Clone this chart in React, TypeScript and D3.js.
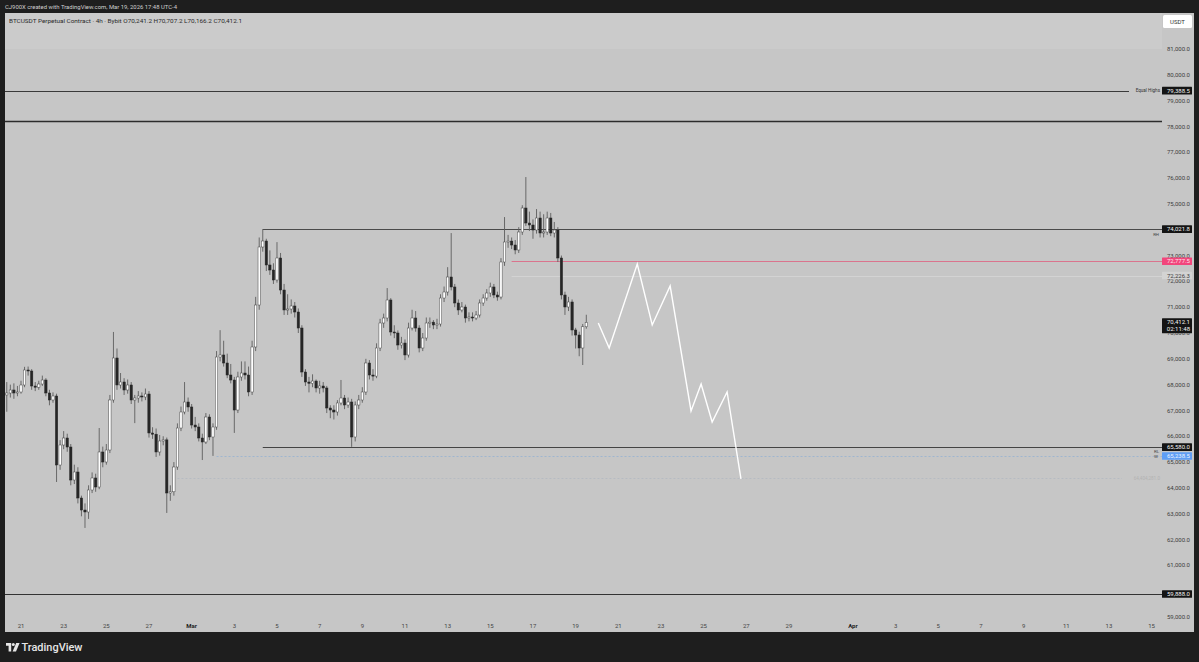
import React from 'react';
import * as d3 from 'd3';

// ---------------- data ----------------
const candleStartUtc = '2026-02-20T08:00:00Z';
const candleIntervalHours = 4;
const firstOpen = 67600;

const closes = [
  67676, 67792, 67676, 67715, 67986, 68567, 68528, 67947, 67900, 68024,
  68179, 67676, 67405, 67560, 64887, 65662, 65933, 65584, 64306, 64616,
  63609, 63144, 63067, 63919, 64384, 64035, 65391, 65003, 65468, 67405,
  69032, 67986, 68102, 67792, 67986, 67405, 67482, 67560, 67521, 67637,
  66127, 66080, 65391, 65817, 65860, 63803, 63850, 64810, 66320, 66940,
  67327, 67134, 66436, 66359, 65933, 65778, 66746, 65972, 66359, 69070,
  69148, 68838, 68373, 68179, 67017, 68296, 68450, 68373, 67715, 69458,
  71084, 73331, 73563, 72634, 72440, 72053, 72905, 71665, 70891, 70929,
  71046, 70813, 70193, 68489, 68102, 68050, 68140, 67870, 67947, 67870,
  67095, 67017, 66940, 67289, 67482, 67211, 67327, 65972, 67211, 67405,
  67715, 68838, 68373, 68330, 69419, 70387, 70581, 71278, 70039, 70000,
  69535, 69612, 69148, 70193, 70581, 70193, 69419, 69806, 70387, 70420,
  70310, 70348, 71355, 71588, 72169, 71782, 71162, 70891, 71007, 70581,
  70620, 70580, 70697, 71162, 71355, 71549, 71782, 71472, 71394, 72750,
  73524, 73560, 73408, 73215, 73912, 74841, 74260, 74183, 73989, 74454,
  73873, 73912, 74454, 73873, 73989, 72905, 71472, 71007, 71201, 70116,
  69922, 69419, 70241, 70412.1,
];

const highs = [
  68100, 68000, 68050, 67950, 68150, 68690, 68700, 68600, 68100, 68150,
  68350, 68250, 67800, 67700, 67650, 65850, 66200, 66100, 65700, 64900,
  64800, 63700, 63400, 64100, 64600, 64550, 66320, 65600, 65700, 67600,
  70040, 69400, 68450, 68250, 68200, 68100, 67600, 67750, 67700, 67850,
  67750, 66350, 66300, 66050, 66000, 65950, 64100, 65000, 66500, 67150,
  68100, 67500, 67250, 66750, 66500, 66100, 66900, 66850, 66500, 69300,
  70110, 69700, 69200, 68800, 68300, 68500, 68900, 68900, 68700, 69700,
  71400, 73700, 74022, 73650, 73200, 72700, 73520, 73100, 71900, 71500,
  71300, 71200, 70950, 70300, 68600, 68300, 68400, 68200, 68150, 68100,
  67950, 67200, 67200, 67400, 68180, 67600, 67500, 67450, 67350, 67600,
  67900, 69000, 68950, 68600, 69600, 70550, 70750, 71740, 71350, 70300,
  70100, 69850, 69750, 70400, 70900, 70850, 70300, 70000, 70600, 70600,
  70500, 70550, 71500, 71800, 72550, 73870, 71900, 71300, 71200, 71100,
  70800, 70800, 70850, 71300, 71500, 71700, 71950, 71900, 71600, 72900,
  74490, 73800, 73700, 73600, 74100, 74950, 76040, 74700, 74400, 74800,
  74700, 74600, 74700, 74650, 74300, 74100, 73000, 71600, 71400, 71300,
  70200, 70050, 70350, 70707.2,
];

const lows = [
  66950, 67500, 67450, 67550, 67650, 67900, 68350, 67800, 67750, 67800,
  67950, 67550, 67200, 67300, 64230, 64700, 65500, 65400, 64100, 64150,
  63400, 62900, 62450, 62800, 63800, 63850, 63950, 64800, 64900, 65350,
  67300, 67800, 67850, 67600, 67650, 67250, 66510, 67300, 67350, 67400,
  65950, 65900, 65200, 65250, 65650, 63030, 63500, 63700, 64700, 66200,
  66850, 66950, 66300, 66200, 65800, 65080, 65700, 65850, 65240, 66250,
  68900, 68700, 68250, 68050, 66130, 66900, 68150, 68200, 67550, 67600,
  69300, 70900, 73150, 72400, 72250, 71900, 71950, 71500, 70700, 70700,
  70750, 70600, 70000, 68300, 67950, 67700, 67900, 67700, 67650, 67700,
  66900, 66700, 66650, 66800, 67200, 67050, 67100, 65590, 65800, 67050,
  67300, 67600, 68200, 68150, 68250, 69300, 70200, 70450, 69900, 69800,
  69350, 69400, 68950, 69050, 70100, 70050, 69250, 69300, 69700, 70200,
  70150, 70150, 70250, 71200, 71450, 71650, 71000, 70700, 70800, 70400,
  70450, 70450, 70500, 70600, 71050, 71250, 71400, 71350, 71250, 71300,
  72600, 73300, 73250, 73050, 73100, 73800, 74150, 73950, 73650, 73850,
  73700, 73700, 73800, 73750, 73700, 72750, 71300, 70700, 70850, 69900,
  69400, 69100, 68760, 70166.2,
];

const priceTicks = [81000, 80000, 79000, 78000, 77000, 76000, 75000, 74000, 73000, 72000, 71000,
  70000, 69000, 68000, 67000, 66000, 65000, 64000, 63000, 62000, 61000, 60000, 59000];
const hiddenPriceTicks = [74000, 60000];

const dayTickDates = ['2026-02-21', '2026-02-23', '2026-02-25', '2026-02-27', '2026-03-01', '2026-03-03',
  '2026-03-05', '2026-03-07', '2026-03-09', '2026-03-11', '2026-03-13', '2026-03-15', '2026-03-17',
  '2026-03-19', '2026-03-21', '2026-03-23', '2026-03-25', '2026-03-27', '2026-03-29', '2026-04-01',
  '2026-04-03', '2026-04-05', '2026-04-07', '2026-04-09', '2026-04-11', '2026-04-13', '2026-04-15'];
const dayTickLabels = ['21', '23', '25', '27', 'Mar', '3', '5', '7', '9', '11', '13', '15', '17', '19',
  '21', '23', '25', '27', '29', 'Apr', '3', '5', '7', '9', '11', '13', '15'];

const projectionTimes = ['2026-03-20T01:30:00Z', '2026-03-20T13:45:00Z', '2026-03-21T21:20:00Z',
  '2026-03-22T14:10:00Z', '2026-03-23T10:20:00Z', '2026-03-24T09:50:00Z', '2026-03-24T21:10:00Z',
  '2026-03-25T09:35:00Z', '2026-03-26T02:25:00Z', '2026-03-26T18:00:00Z'];
const projectionPrices = [70388, 69420, 72673, 70311, 71821, 66980, 68026, 66554, 67716, 64346];

const levelPrices = [79388.5, 78211, 74021.8, 72777.5, 72226.3, 65580.0, 65238.5, 64384, 59888.0];
const levelStarts = [null, null, '2026-03-04T08:00:00Z', '2026-03-16T00:00:00Z', '2026-03-16T00:00:00Z',
  '2026-03-04T08:00:00Z', '2026-03-02T04:00:00Z', '2026-02-28T08:00:00Z', null];
const levelTags = ['Equal Highs', '', 'RH', '', '', 'RL', 'W', '64,404,281.0', ''];

const axisLabelPrices = [79388.5, 74021.8, 72777.5, 72226.3, 70412.1, 65580.0, 65238.5, 59888.0];
const axisLabelKinds = ['black', 'black', 'pink', 'light', 'black', 'black', 'blue', 'black'];
const countdownText = '02:11:48';

const headerText = 'CJ900X created with TradingView.com, Mar 19, 2026 17:48 UTC-4';
const symbolText = 'BTCUSDT Perpetual Contract · 4h · Bybit';
const ohlcLetters = ['O', 'H', 'L', 'C'];
const ohlcValues = [70241.2, 70707.2, 70166.2, 70412.1];
const currencyText = 'USDT';
const brandText = 'TradingView';

// ---------------- styles ----------------
const FONT = 'Roboto, "Liberation Sans", sans-serif';
const DARK = '#1e1e1e';
const BG = '#c6c6c6';
const BAND = '#cbcbcb';

const levelStyle = [
  { stroke: '#3a3a3a', w: 1, dash: '' },
  { stroke: '#2c2c2c', w: 1.4, dash: '' },
  { stroke: '#4a4a4a', w: 1, dash: '' },
  { stroke: '#e0607f', w: 0.8, dash: '' },
  { stroke: '#d3d3d3', w: 1, dash: '' },
  { stroke: '#444444', w: 1.2, dash: '' },
  { stroke: '#9fb6d0', w: 1, dash: '2,2' },
  { stroke: '#b6bbc2', w: 1, dash: '2,2' },
  { stroke: '#333333', w: 1.2, dash: '' },
];
const labelStyle: Record<string, { fill: string; text: string }> = {
  black: { fill: '#141414', text: '#f2f2f2' },
  pink: { fill: '#f2467c', text: '#ffe0ea' },
  light: { fill: '#d3d3d3', text: '#3c3c3c' },
  blue: { fill: '#5f9ef5', text: '#eaf2ff' },
};

export default function App() {
  const paneL = 5, paneR = 1194, paneT = 13, paneB = 632, plotR = 1162;
  const y = d3.scaleLinear().domain([59000, 81000]).range([617, 49]);
  const x = d3.scaleUtc()
    .domain([new Date('2026-02-21T00:00:00Z'), new Date('2026-04-15T00:00:00Z')])
    .range([21, 1151.6]);
  const fmt = d3.format(',.1f');

  const t0 = new Date(candleStartUtc).getTime();
  const stepMs = candleIntervalHours * 3600 * 1000;
  const candles = closes.map((c, i) => ({
    t: new Date(t0 + i * stepMs),
    o: i === 0 ? firstOpen : closes[i - 1],
    h: highs[i],
    l: lows[i],
    c,
  }));
  const step = x(new Date(t0 + stepMs)) - x(new Date(t0));
  const bw = step * 0.66;

  const proj = projectionTimes.map((t, i) => [new Date(t), projectionPrices[i]] as [Date, number]);
  const projLine = d3.line<[Date, number]>().x(d => x(d[0])).y(d => y(d[1]));

  const lastY = y(ohlcValues[3]);

  return (
    <svg width={1199} height={662} style={{ position: 'absolute', left: 0, top: 0, display: 'block' }}
      fontFamily={FONT}>
      <rect x={0} y={0} width={1199} height={662} fill={DARK} />
      <rect x={paneL} y={paneT} width={paneR - paneL} height={paneB - paneT} fill={BG} />
      <rect x={paneL} y={paneT} width={plotR - paneL} height={y(81000) - paneT} fill={BAND} />

      {/* header */}
      <text x={5} y={7} dy="0.35em" fontSize={5.5} fill="#cfcfcf" textLength={172} lengthAdjust="spacingAndGlyphs">{headerText}</text>
      <text x={9} y={21} dy="0.35em" fontSize={5.5} fill="#2a2a2a" textLength={233} lengthAdjust="spacingAndGlyphs">
        {symbolText}
        {ohlcLetters.map((l, i) => (
          <tspan key={l}>{'  ' + l + fmt(ohlcValues[i])}</tspan>
        ))}
      </text>

      <defs>
        <clipPath id="plotclip">
          <rect x={paneL} y={paneT} width={plotR - paneL} height={paneB - paneT} />
        </clipPath>
        <clipPath id="tickclip">
          <rect x={plotR} y={paneT} width={paneR - plotR} height={lastY - 4 - paneT} />
          <rect x={plotR} y={lastY + 11} width={paneR - plotR} height={paneB - lastY - 11} />
        </clipPath>
      </defs>

      {/* levels */}
      <g clipPath="url(#plotclip)">
        {levelPrices.map((p, i) => {
          const st = levelStyle[i];
          const x1 = levelStarts[i] ? x(new Date(levelStarts[i] as string)) : paneL;
          let x2 = plotR;
          if (i === 0) x2 = plotR - 33;
          if (i === 7) x2 = plotR - 40;
          const yy = Math.round(y(p)) + 0.5;
          return (
            <line key={i} x1={x1} x2={x2} y1={yy} y2={yy} stroke={st.stroke} strokeWidth={st.w}
              strokeDasharray={st.dash || undefined} />
          );
        })}
      </g>
      {/* level tags */}
      <text x={1160} y={y(levelPrices[0])} dy="0.35em" fontSize={4.6} fill="#333" textAnchor="end">{levelTags[0]}</text>
      <text x={1159} y={y(levelPrices[2]) + 5} dy="0.35em" fontSize={4.4} fill="#444" textAnchor="end">{levelTags[2]}</text>
      <text x={1159} y={y(levelPrices[5]) + 4.5} dy="0.35em" fontSize={4.4} fill="#444" textAnchor="end">{levelTags[5]}</text>
      <text x={1158} y={y(levelPrices[6]) + 1} dy="0.35em" fontSize={4.4} fill="#444" textAnchor="end">{levelTags[6]}</text>
      <text x={1160} y={y(levelPrices[7])} dy="0.35em" fontSize={4.6} fill="#b3b3b3" textAnchor="end">{levelTags[7]}</text>

      {/* candles */}
      <g clipPath="url(#plotclip)">
        {candles.map((d, i) => {
          const cx = x(d.t);
          const up = d.c >= d.o;
          const top = y(Math.max(d.o, d.c));
          const bot = y(Math.min(d.o, d.c));
          const bh = Math.max(1, bot - top);
          return (
            <g key={i}>
              <line x1={cx} x2={cx} y1={y(d.h)} y2={y(d.l)} stroke="#5e5e5e" strokeWidth={0.9} />
              <rect x={cx - bw / 2} y={top} width={bw} height={bh}
                fill={up ? '#ffffff' : '#262626'} stroke={up ? '#4a4a4a' : '#262626'} strokeWidth={0.5} />
            </g>
          );
        })}
      </g>

      {/* projection */}
      <path d={projLine(proj) || ''} fill="none" stroke="#ffffff" strokeWidth={1.4} strokeLinejoin="miter" />

      {/* price axis ticks (partly hidden under the last-price label, as on the reference) */}
      <g clipPath="url(#tickclip)">
        {priceTicks.filter(p => !hiddenPriceTicks.includes(p)).map(p => (
          <text key={p} x={1190} y={y(p)} dy="0.35em" fontSize={6} fill="#3d3d3d" textAnchor="end">{fmt(p)}</text>
        ))}
      </g>

      {/* axis labels */}
      {axisLabelPrices.map((p, i) => {
        const st = labelStyle[axisLabelKinds[i]];
        const yy = y(p);
        if (p === ohlcValues[3]) {
          return (
            <g key={i}>
              <rect x={1162} y={yy - 4} width={30} height={15} fill={st.fill} rx={0.5} />
              <text x={1190} y={yy} dy="0.35em" fontSize={6} fill={st.text} textAnchor="end">{fmt(p)}</text>
              <text x={1190} y={yy + 6.5} dy="0.35em" fontSize={6} fill={st.text} textAnchor="end">{countdownText}</text>
            </g>
          );
        }
        return (
          <g key={i}>
            <rect x={1162} y={yy - 3.8} width={30} height={7.6} fill={st.fill} rx={0.5} />
            <text x={1190} y={yy} dy="0.35em" fontSize={6} fill={st.text} textAnchor="end">{fmt(p)}</text>
          </g>
        );
      })}

      {/* currency box */}
      <rect x={1163} y={15} width={29} height={13} fill="#ffffff" rx={1.5} />
      <text x={1177.5} y={21.5} dy="0.35em" fontSize={6} fill="#333" textAnchor="middle">{currencyText}</text>

      {/* time axis */}
      {dayTickDates.map((d, i) => {
        const lbl = dayTickLabels[i];
        const bold = lbl === 'Mar' || lbl === 'Apr';
        return (
          <text key={d} x={x(new Date(d + 'T00:00:00Z'))} y={626} dy="0.35em" fontSize={6}
            fill={bold ? '#222' : '#444'} fontWeight={bold ? 700 : 400} textAnchor="middle">{lbl}</text>
        );
      })}

      {/* footer brand */}
      <g fill="#e6e6e6">
        <path d="M6,643 h5.2 v8.6 h-2.6 v-5.8 h-2.6 z" />
        <circle cx={13.3} cy={644.5} r={1.5} />
        <path d="M16.2,643 h3.4 l-3.6,8.6 h-3.4 z" />
      </g>
      <text x={21.5} y={647.3} dy="0.35em" fontSize={11.5} fontWeight={500} fill="#e6e6e6"
        textLength={61} lengthAdjust="spacingAndGlyphs">{brandText}</text>
    </svg>
  );
}
